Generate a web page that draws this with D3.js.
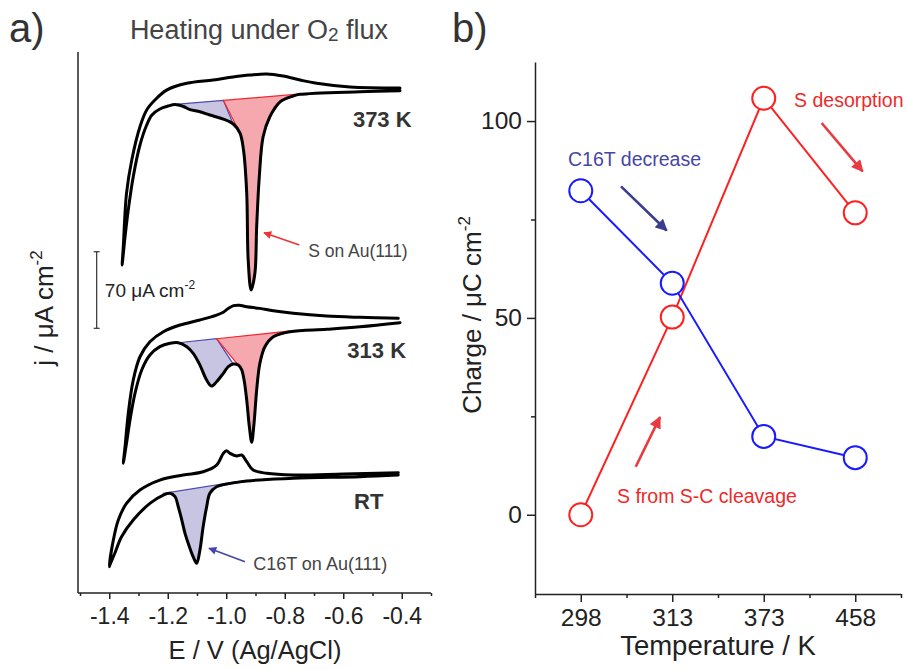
<!DOCTYPE html>
<html>
<head>
<meta charset="utf-8">
<script src="https://cdn.jsdelivr.net/npm/d3@7"></script>
<style>
  body { margin: 0; background: #fff; }
  svg { display: block; }
  text { font-family: "Liberation Sans", Arial, Helvetica, sans-serif; }
</style>
</head>
<body>
<svg id="fig" width="907" height="670"></svg>
<script>
// ---------- Panel a: cyclic voltammograms, E (V vs Ag/AgCl), j (µA cm^-2) ----------
const potentialTicks = [-1.4, -1.2, -1.0, -0.8, -0.6, -0.4];
const potentialMinorTicks = [-1.5, -1.3, -1.1, -0.9, -0.7, -0.5, -0.3];
const cvNames = ["373 K", "313 K", "RT"];
const cvOffsets = [460, 250, 110];          // vertical stacking offsets, µA cm^-2
const scaleBarValue = 70;                    // µA cm^-2

// cathodic sweeps run from positive to negative potential, anodic sweeps back
const cv373Cathodic = [
  [-0.406, -1.0], [-0.543, -1.9], [-0.748, -4.3], [-0.771, -5.8], [-0.816, -11.1], [-0.851, -24.8],
  [-0.874, -43.0], [-0.887, -79.6], [-0.896, -125.3], [-0.902, -167.6], [-0.915, -183.1], [-0.925, -155.7],
  [-0.930, -94.8], [-0.941, -55.2], [-0.953, -39.7], [-0.976, -31.4], [-1.010, -26.9], [-1.056, -23.2],
  [-1.090, -20.2], [-1.124, -18.2], [-1.147, -15.4], [-1.175, -13.6], [-1.199, -15.0], [-1.227, -17.7],
  [-1.254, -23.2], [-1.272, -32.3], [-1.295, -50.6], [-1.318, -79.6], [-1.335, -110.0], [-1.346, -134.4],
  [-1.356, -160.3]
];
const cv373Anodic = [
  [-1.352, -143.6], [-1.341, -94.8], [-1.323, -64.3], [-1.295, -33.9], [-1.272, -18.6], [-1.244, -9.5],
  [-1.204, -0.4], [-1.135, 5.8], [-1.045, 8.8], [-0.977, 11.5], [-0.919, 13.3], [-0.862, 14.3],
  [-0.806, 12.4], [-0.748, 8.8], [-0.691, 5.8], [-0.577, 2.4], [-0.406, 1.5]
];
const cv313Cathodic = [
  [-0.406, -3.0], [-0.543, -6.7], [-0.657, -9.0], [-0.782, -11.2], [-0.839, -15.8], [-0.868, -24.9],
  [-0.885, -40.1], [-0.896, -64.5], [-0.905, -94.9], [-0.913, -112.3], [-0.921, -98.1], [-0.930, -73.7],
  [-0.939, -55.4], [-0.947, -46.2], [-0.959, -41.7], [-0.976, -40.8], [-0.993, -43.2], [-1.010, -49.3],
  [-1.033, -56.9], [-1.050, -60.9], [-1.067, -55.4], [-1.090, -41.7], [-1.113, -31.0], [-1.135, -24.9],
  [-1.164, -21.3], [-1.192, -21.8], [-1.227, -24.9], [-1.261, -32.5], [-1.289, -46.2], [-1.312, -67.5],
  [-1.329, -91.9], [-1.341, -113.2], [-1.352, -131.5]
];
const cv313Anodic = [
  [-1.346, -116.3], [-1.335, -85.8], [-1.318, -55.4], [-1.295, -34.1], [-1.261, -20.4], [-1.215, -11.2],
  [-1.158, -5.1], [-1.090, -0.5], [-1.033, 4.0], [-1.010, 6.6], [-0.993, 10.0], [-0.975, 12.6],
  [-0.955, 13.0], [-0.930, 11.6], [-0.885, 10.1], [-0.839, 7.9], [-0.771, 5.6], [-0.657, 3.1],
  [-0.543, 1.9], [-0.412, 1.0]
];
const cvRTCathodic = [
  [-0.412, -2.2], [-0.543, -3.7], [-0.771, -5.2], [-0.930, -7.7], [-1.033, -12.9], [-1.056, -18.9],
  [-1.067, -31.2], [-1.079, -49.4], [-1.090, -70.7], [-1.101, -82.9], [-1.113, -76.9], [-1.130, -64.6],
  [-1.141, -55.5], [-1.152, -43.3], [-1.164, -31.2], [-1.175, -22.0], [-1.192, -18.9], [-1.215, -20.5],
  [-1.261, -28.1], [-1.318, -43.3], [-1.358, -58.6], [-1.381, -73.7], [-1.398, -84.4], [-1.400, -86.0]
];
const cvRTAnodic = [
  [-1.386, -61.6], [-1.369, -43.3], [-1.341, -28.1], [-1.295, -15.9], [-1.227, -6.8], [-1.147, -2.2],
  [-1.079, 0.8], [-1.033, 6.9], [-1.010, 17.6], [-0.999, 20.0], [-0.987, 17.6], [-0.964, 15.2],
  [-0.947, 16.1], [-0.930, 10.0], [-0.908, 2.4], [-0.862, -0.6], [-0.771, -2.2], [-0.600, -1.3], [-0.412, 0.0]
];

// integration baselines [[E, j], [E, j]] and integrated windows:
// top = [E from, E to] along the baseline, curve = [E from, E to] along the cathodic sweep
const base373 = [[-1.175, -13.4], [-0.748, -4.0]];
const base313 = [[-1.164, -21.3], [-0.782, -10.6]];
const baseRT  = [[-1.215, -18.9], [-0.942, -7.4]];
const c16tWindows   = [ { top: [-1.175, -1.010], curve: [-1.175, -0.976] },
                        { top: [-1.164, -1.033], curve: [-1.164, -0.976] },
                        { top: [-1.215, -0.942], curve: [-1.215, -0.942] } ];
const sulfurWindows = [ { top: [-1.010, -0.748], curve: [-0.953, -0.748] },
                        { top: [-1.033, -0.782], curve: [-0.959, -0.782] },
                        null ];

// ---------- Panel b: integrated charges ----------
const temperatures = ["298", "313", "373", "458"];
const c16tCharge   = [82.3, 58.8, 19.9, 14.5];   // µC cm^-2
const sulfurCharge = [0, 50.2, 105.8, 76.7];     // µC cm^-2
const chargeTicks = [0, 50, 100];
const chargeMinorTicks = [25, 75];

// ---------- drawing ----------
const svg = d3.select("#fig");
const ink = "#222";
const blueFill = "#c7c5e2", blueEdge = "#4b4bb2";
const redFill = "#f5a8ad", redEdge = "#ee2a30";

const defs = svg.append("defs");
function arrowHead(id, color, len, wid) {
  defs.append("marker")
    .attr("id", id).attr("viewBox", "0 0 10 10")
    .attr("refX", 9).attr("refY", 5)
    .attr("markerUnits", "userSpaceOnUse")
    .attr("markerWidth", len).attr("markerHeight", wid)
    .attr("orient", "auto")
    .append("path").attr("d", "M0,0L10,5L0,10Z").attr("fill", color);
}
arrowHead("headRedA", "#ee3333", 9, 8);
arrowHead("headBlueA", "#4444aa", 9, 8);
arrowHead("headRedB", "#e83a40", 13, 12);
arrowHead("headBlueB", "#3c3c8e", 13, 12);

// panel letters and title
svg.append("text").attr("x", 9).attr("y", 42).attr("font-size", 40).attr("fill", "#333").text("a)");
svg.append("text").attr("x", 452).attr("y", 42).attr("font-size", 40).attr("fill", "#333").text("b)");
const title = svg.append("text").attr("x", 259).attr("y", 39).attr("text-anchor", "middle")
  .attr("font-size", 27).attr("fill", "#444");
title.append("tspan").text("Heating under O");
title.append("tspan").attr("font-size", 19).attr("dy", 2).text("2");
title.append("tspan").attr("dy", -2).text(" flux");

// ===== panel a =====
const xE = d3.scaleLinear().domain([-1.5, -0.3]).range([80, 431]);
const yJ = d3.scaleLinear().domain([0, 494.4]).range([593, 52]);
const pa = svg.append("g");

// axes
pa.append("line").attr("x1", 78).attr("x2", 78).attr("y1", 52).attr("y2", 593)
  .attr("stroke", ink).attr("stroke-width", 1.5);
const axA = pa.append("g").attr("transform", "translate(0,593)");
axA.call(d3.axisBottom(xE).tickValues(potentialTicks).tickSize(6).tickSizeOuter(0)
  .tickPadding(9).tickFormat(d => d.toFixed(1)));
axA.select(".domain").attr("d", "M78,0H431");
const axAm = pa.append("g").attr("transform", "translate(0,593)");
axAm.call(d3.axisBottom(xE).tickValues(potentialMinorTicks).tickSize(3).tickSizeOuter(0).tickFormat(""));
axAm.select(".domain").remove();
[axA, axAm].forEach(g => {
  g.selectAll("path,line").attr("stroke", ink).attr("stroke-width", 1.5);
  g.selectAll("text").attr("font-size", 23).attr("fill", ink)
    .attr("font-family", "'Liberation Sans', Arial, sans-serif");
});
pa.append("text").attr("x", 255).attr("y", 659).attr("text-anchor", "middle")
  .attr("font-size", 25.5).attr("fill", ink).text("E / V (Ag/AgCl)");
const ylabA = pa.append("text").attr("transform", "translate(53,308) rotate(-90)")
  .attr("text-anchor", "middle").attr("font-size", 26).attr("fill", ink);
ylabA.append("tspan").text("j / \u03bcA cm");
ylabA.append("tspan").attr("font-size", 17).attr("dy", -11).text("-2");

// curves
const cvSets = [
  [cv373Cathodic, cv373Anodic, base373],
  [cv313Cathodic, cv313Anodic, base313],
  [cvRTCathodic, cvRTAnodic, baseRT]
];

function interpJ(pts, e) {
  for (let i = 0; i < pts.length - 1; i++) {
    const a = pts[i], b = pts[i + 1];
    if ((e <= a[0] && e >= b[0]) || (e >= a[0] && e <= b[0])) {
      const t = (e - a[0]) / (b[0] - a[0] || 1);
      return a[1] + t * (b[1] - a[1]);
    }
  }
  return pts[pts.length - 1][1];
}
function baseJ(base, e) {
  const t = (e - base[0][0]) / (base[1][0] - base[0][0]);
  return base[0][1] + t * (base[1][1] - base[0][1]);
}
function regionPoints(cath, base, win, off) {
  const pts = [];
  pts.push([win.top[0], baseJ(base, win.top[0])]);
  pts.push([win.top[1], baseJ(base, win.top[1])]);
  pts.push([win.curve[1], interpJ(cath, win.curve[1])]);
  cath.filter(p => p[0] < win.curve[1] && p[0] > win.curve[0]).forEach(p => pts.push(p));
  pts.push([win.curve[0], interpJ(cath, win.curve[0])]);
  return pts.map(p => [xE(p[0]), yJ(p[1] + off)]);
}

const areaLine = d3.line().curve(d3.curveLinearClosed);
cvSets.forEach(([cath, anod, base], k) => {
  const off = cvOffsets[k];
  const w1 = c16tWindows[k];
  if (w1) {
    pa.append("path").attr("d", areaLine(regionPoints(cath, base, w1, off)))
      .attr("fill", blueFill).attr("stroke", blueEdge).attr("stroke-width", 1.2);
  }
  const w2 = sulfurWindows[k];
  if (w2) {
    pa.append("path").attr("d", areaLine(regionPoints(cath, base, w2, off)))
      .attr("fill", redFill).attr("stroke", redEdge).attr("stroke-width", 1.2);
  }
});

const cvLine = d3.line().x(d => xE(d[0])).curve(d3.curveCatmullRom.alpha(0.5));
cvSets.forEach(([cath, anod], k) => {
  const off = cvOffsets[k];
  pa.append("path")
    .attr("d", cvLine.y(d => yJ(d[1] + off))(cath.concat(anod)))
    .attr("fill", "none").attr("stroke", "#000").attr("stroke-width", 3)
    .attr("stroke-linejoin", "round").attr("stroke-linecap", "round");
});

// curve labels
const cvLabelPos = [[-0.567, 426], [-0.586, 214.5], [-0.563, 76.5]];
cvNames.forEach((name, k) => {
  pa.append("text").attr("x", xE(cvLabelPos[k][0])).attr("y", yJ(cvLabelPos[k][1]))
    .attr("font-size", 22).attr("font-weight", "bold").attr("fill", "#333").text(name);
});

// scale bar
const sbE = -1.443, sbLow = 241.9;
pa.append("line").attr("x1", xE(sbE)).attr("x2", xE(sbE))
  .attr("y1", yJ(sbLow)).attr("y2", yJ(sbLow + scaleBarValue)).attr("stroke", "#333").attr("stroke-width", 1.2);
[sbLow, sbLow + scaleBarValue].forEach(v => {
  pa.append("line").attr("x1", xE(sbE) - 3).attr("x2", xE(sbE) + 3)
    .attr("y1", yJ(v)).attr("y2", yJ(v)).attr("stroke", "#333").attr("stroke-width", 1.2);
});
const sbText = pa.append("text").attr("x", xE(-1.415)).attr("y", yJ(270.5))
  .attr("font-size", 19).attr("fill", "#222");
sbText.append("tspan").text(scaleBarValue + " \u03bcA cm");
sbText.append("tspan").attr("font-size", 12).attr("dy", -8).text("-2");

// peak annotations
pa.append("line").attr("x1", xE(-0.750)).attr("y1", yJ(318.0)).attr("x2", xE(-0.871)).attr("y2", yJ(329.3))
  .attr("stroke", "#ee3333").attr("stroke-width", 1.6).attr("marker-end", "url(#headRedA)");
pa.append("text").attr("x", xE(-0.720)).attr("y", yJ(307.3)).attr("font-size", 17.5).attr("fill", "#444")
  .text("S on Au(111)");
pa.append("line").attr("x1", xE(-0.936)).attr("y1", yJ(28.6)).attr("x2", xE(-1.059)).attr("y2", yJ(40.8))
  .attr("stroke", "#4444aa").attr("stroke-width", 1.6).attr("marker-end", "url(#headBlueA)");
pa.append("text").attr("x", xE(-0.908)).attr("y", yJ(21.0)).attr("font-size", 18).attr("fill", "#444")
  .text("C16T on Au(111)");

// ===== panel b =====
const xT = d3.scaleLinear().domain([-0.5, 3.5]).range([535, 901]);
const yQ = d3.scaleLinear().domain([-20, 115]).range([593.5, 62]);
const pb = svg.append("g");

const axBx = pb.append("g").attr("transform", "translate(0,594)");
axBx.call(d3.axisBottom(xT).tickValues(d3.range(temperatures.length)).tickSize(8).tickSizeOuter(0)
  .tickPadding(7).tickFormat(i => temperatures[i]));
const axBxm = pb.append("g").attr("transform", "translate(0,594)");
axBxm.call(d3.axisBottom(xT).tickValues([-0.5, 0.5, 1.5, 2.5, 3.5]).tickSize(4).tickSizeOuter(0).tickFormat(""));
axBxm.select(".domain").remove();
const axBy = pb.append("g").attr("transform", "translate(535,0)");
axBy.call(d3.axisLeft(yQ).tickValues(chargeTicks).tickSize(8).tickSizeOuter(0).tickPadding(5));
const axBym = pb.append("g").attr("transform", "translate(535,0)");
axBym.call(d3.axisLeft(yQ).tickValues(chargeMinorTicks).tickSize(4).tickSizeOuter(0).tickFormat(""));
axBym.select(".domain").remove();
[axBx, axBxm, axBy, axBym].forEach(g => {
  g.selectAll("path,line").attr("stroke", ink).attr("stroke-width", 1.5);
  g.selectAll("text").attr("font-size", 24.5).attr("fill", ink)
    .attr("font-family", "'Liberation Sans', Arial, sans-serif");
});
pb.append("text").attr("x", 718).attr("y", 655).attr("text-anchor", "middle")
  .attr("font-size", 27.5).attr("fill", ink).text("Temperature / K");
const ylabB = pb.append("text").attr("transform", "translate(481,315) rotate(-90)")
  .attr("text-anchor", "middle").attr("font-size", 26).attr("fill", ink);
ylabB.append("tspan").text("Charge / \u03bcC cm");
ylabB.append("tspan").attr("font-size", 17).attr("dy", -11).text("-2");

const seriesB = [
  { values: sulfurCharge, color: "#ff2020" },
  { values: c16tCharge, color: "#1a1aff" }
];
const qLine = d3.line().x((d, i) => xT(i)).y(d => yQ(d));
seriesB.forEach(s => {
  pb.append("path").attr("d", qLine(s.values)).attr("fill", "none")
    .attr("stroke", s.color).attr("stroke-width", 2);
});
seriesB.forEach(s => {
  pb.selectAll(null).data(s.values).enter().append("circle")
    .attr("cx", (d, i) => xT(i)).attr("cy", d => yQ(d)).attr("r", 11.5)
    .attr("fill", "#fff").attr("stroke", s.color).attr("stroke-width", 2);
});

// trend annotations (positions in category index / charge units)
function noteArrow(from, to, color, head) {
  pb.append("line").attr("x1", xT(from[0])).attr("y1", yQ(from[1]))
    .attr("x2", xT(to[0])).attr("y2", yQ(to[1]))
    .attr("stroke", color).attr("stroke-width", 2.6).attr("marker-end", `url(#${head})`);
}
noteArrow([2.633, 99.5], [3.081, 87.2], "#e83a40", "headRedB");
noteArrow([0.440, 83.4], [0.939, 72.2], "#3c3c8e", "headBlueB");
noteArrow([0.601, 12.2], [0.866, 24.8], "#e83a40", "headRedB");
pb.append("text").attr("x", xT(2.331)).attr("y", yQ(103.6)).attr("font-size", 19.5)
  .attr("fill", "#ee2a2a").text("S desorption");
pb.append("text").attr("x", xT(-0.139)).attr("y", yQ(88.6)).attr("font-size", 19.5)
  .attr("fill", "#4646a6").text("C16T decrease");
pb.append("text").attr("x", xT(0.396)).attr("y", yQ(3.0)).attr("font-size", 19.5)
  .attr("fill", "#ee2a2a").text("S from S-C cleavage");
</script>
</body>
</html>
